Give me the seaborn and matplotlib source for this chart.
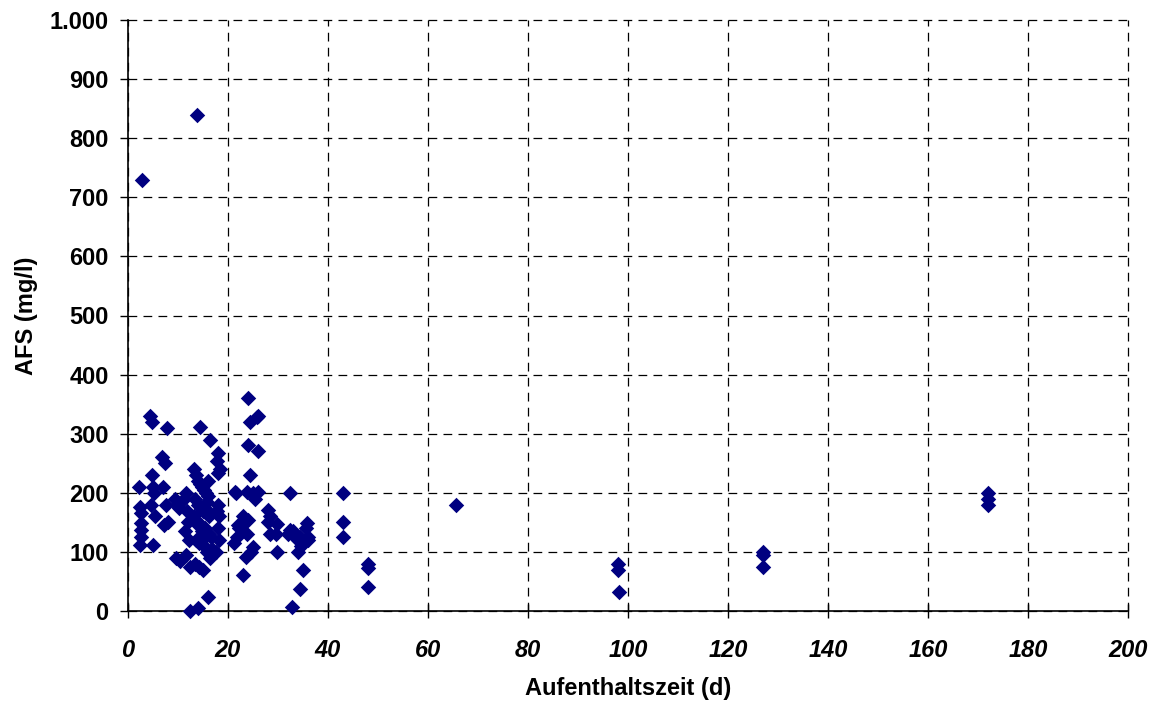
import matplotlib
matplotlib.use("Agg")
import matplotlib.pyplot as plt
import seaborn as sns
import pandas as pd
from matplotlib.ticker import FuncFormatter, MultipleLocator

# Residence time (d)
aufenthaltszeit = [
    2.7, 13.7,
    2.2, 2.4, 2.5, 2.6, 2.5, 2.6, 2.4, 5.0,
    4.3, 4.7, 4.7, 5.0, 5.2, 4.6, 5.3,
    7.7, 6.7, 7.3, 7.0, 7.5, 8.0, 7.2,
    9.3, 9.8, 10.2, 9.5, 10.3,
    11.5, 11.2, 11.8, 12.0, 11.4, 12.2, 11.6, 12.3,
    12.3, 14.0,
    13.2, 13.6, 14.0, 14.4, 14.8, 15.2, 15.6, 16.0, 13.4, 13.9, 14.5, 15.0,
    15.5, 16.2, 13.0, 13.8, 14.6, 15.3, 16.1, 16.6, 13.5, 14.2, 15.1, 15.8,
    16.4, 13.3, 14.1, 14.9, 15.7, 16.3, 13.7, 14.7, 15.4, 16.8, 14.3, 15.9,
    13.1, 14.0, 15.0,
    16.3, 16.0,
    18.0, 17.7, 18.0, 18.3, 18.0, 17.8, 18.2, 17.9, 18.1, 17.6,
    21.3, 21.6, 21.9, 22.1, 21.7, 21.2,
    23.0, 23.3, 23.7, 23.5, 23.0,
    24.0, 24.3, 24.0, 24.3, 23.7, 24.0, 24.5,
    25.7, 25.0, 25.3, 25.0,
    26.0, 26.0, 26.0,
    28.0, 28.3, 28.0, 28.3,
    29.7, 29.5, 29.7,
    32.3, 32.3, 32.0, 32.7,
    33.0, 33.3,
    34.3, 34.0, 34.6, 34.0, 34.3,
    35.7, 36.0, 35.5, 36.0, 35.0,
    43.0, 43.0, 43.0,
    48.0, 48.0, 48.0,
    65.5,
    98.0, 98.0, 98.2,
    127.0, 127.0, 127.0,
    172.0, 172.0, 172.0,
]

# AFS (mg/l)
afs = [
    730, 840,
    210, 176, 165, 149, 137, 126, 112, 112,
    330, 320, 230, 210, 200, 180, 160,
    309, 261, 250, 210, 180, 150, 145,
    190, 180, 175, 90, 85,
    200, 190, 170, 150, 135, 120, 95, 75,
    0, 5,
    240, 230, 220, 215, 210, 205, 200, 195, 190, 180,
    175, 170, 165, 160, 155, 150, 145, 140, 130, 125,
    120, 115, 110, 100, 90, 80, 75, 70, 185, 165,
    150, 135, 125, 105, 312, 220,
    160, 145, 130,
    289, 24,
    267, 253, 233, 240, 180, 170, 160, 140, 120, 100,
    201, 199, 145, 140, 126, 115,
    160, 150, 130, 92, 61,
    360, 320, 281, 230, 201, 154, 100,
    329, 200, 190, 109,
    330, 270, 201,
    171, 160, 150, 131,
    148, 130, 100,
    199, 137, 130, 7,
    135, 125,
    126, 120, 110, 100, 38,
    149, 120, 140, 125, 69,
    199, 150, 126,
    80, 73, 41,
    180,
    80, 70, 32,
    100, 95, 75,
    200, 190, 180,
]

df = pd.DataFrame({"Aufenthaltszeit (d)": aufenthaltszeit, "AFS (mg/l)": afs})

sns.set_style("white")
plt.rcParams["font.family"] = ["Liberation Sans", "DejaVu Sans"]
plt.rcParams["text.color"] = "black"
plt.rcParams["axes.labelcolor"] = "black"
plt.rcParams["xtick.color"] = "black"
plt.rcParams["ytick.color"] = "black"

fig = plt.figure(figsize=(11.57, 7.07), dpi=100)
ax = fig.add_axes([128 / 1157, 1 - 611 / 707, 1000 / 1157, 591 / 707])

sns.scatterplot(data=df, x="Aufenthaltszeit (d)", y="AFS (mg/l)", ax=ax,
                marker="D", s=62, color="#000080", edgecolor="#000080",
                linewidth=0, zorder=3, clip_on=False)

ax.set_xlim(0, 200)
ax.set_ylim(0, 1000)
ax.xaxis.set_major_locator(MultipleLocator(20))
ax.yaxis.set_major_locator(MultipleLocator(100))
ax.yaxis.set_major_formatter(FuncFormatter(lambda v, p: f"{int(v):,}".replace(",", ".")))

ax.grid(True, color="black", linestyle=(0, (7, 5)), linewidth=0.9)
ax.set_axisbelow(True)
for line in ax.get_xgridlines() + ax.get_ygridlines():
    line.set_clip_on(False)
for side in ["top", "right"]:
    ax.spines[side].set_visible(False)
for side in ["left", "bottom"]:
    ax.spines[side].set_color("black")
    ax.spines[side].set_linewidth(1.2)

ax.tick_params(axis="y", direction="out", length=6, width=1, color="black",
               labelcolor="black", labelsize=17, pad=8, left=True)
ax.tick_params(axis="x", direction="inout", length=10, width=1, color="black",
               labelcolor="black", labelsize=17, pad=15, bottom=True)
for lbl in ax.get_yticklabels():
    lbl.set_fontweight("bold")
for lbl in ax.get_xticklabels():
    lbl.set_fontweight("bold")
    lbl.set_fontstyle("italic")

ax.set_xlabel("Aufenthaltszeit (d)", fontsize=17, fontweight="bold", labelpad=11, color="black")
ax.set_ylabel("AFS (mg/l)", fontsize=17, fontweight="bold", labelpad=8, color="black")

fig.savefig("out.png", dpi=100)
